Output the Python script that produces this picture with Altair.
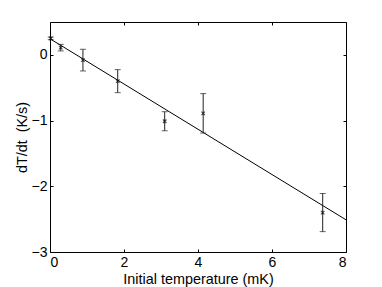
import altair as alt
import pandas as pd

# measured data (initial temperature in mK, dT/dt in K/s, error)
temp = [0.02, 0.29, 0.89, 1.83, 3.10, 4.14, 7.37]
rate = [0.25, 0.11, -0.08, -0.40, -1.01, -0.89, -2.40]
err = [0.02, 0.05, 0.165, 0.175, 0.145, 0.30, 0.29]

# fitted line endpoints
fit_x = [0.0, 8.0]
fit_y = [0.245, -2.51]

x_ticks = [0, 2, 4, 6, 8]
y_ticks = [-3, -2, -1, 0]

df = pd.DataFrame({"t": temp, "r": rate, "lo": [r - e for r, e in zip(rate, err)],
                   "hi": [r + e for r, e in zip(rate, err)]})
fit = pd.DataFrame({"t": fit_x, "r": fit_y})

FONT = "Liberation Sans"
xs = alt.Scale(domain=[0, 8], nice=False, zero=False)
ys = alt.Scale(domain=[-3, 0.5], nice=False, zero=False)

ax_common = dict(domain=False, grid=False, tickSize=3, offset=-3, tickColor="black",
                 labelFont=FONT, labelFontSize=14, labelColor="black",
                 titleFont=FONT, titleFontSize=14.4, titleFontWeight="normal", titleColor="black")

x_bottom = alt.Axis(values=x_ticks, title="Initial temperature (mK)", orient="bottom",
                    labelPadding=3, titlePadding=3, **ax_common)
y_left = alt.Axis(values=y_ticks, title="dT/dt\u00a0 (K/s)", orient="left",
                  labelPadding=3, titlePadding=2, **ax_common)
x_top = alt.Axis(values=x_ticks, orient="top", labels=False, title=None, **ax_common)
y_right = alt.Axis(values=y_ticks, orient="right", labels=False, title=None, **ax_common)

line = alt.Chart(fit).mark_line(color="black", strokeWidth=1).encode(
    x=alt.X("t:Q", scale=xs, axis=x_bottom),
    y=alt.Y("r:Q", scale=ys, axis=y_left),
)

bars = alt.Chart(df).mark_rule(color="#222", strokeWidth=1).encode(
    x=alt.X("t:Q", scale=xs, axis=None),
    y=alt.Y("lo:Q", scale=ys, axis=None),
    y2="hi:Q",
)
cap_lo = alt.Chart(df).mark_tick(color="#222", orient="horizontal", size=6, thickness=1).encode(
    x=alt.X("t:Q", scale=xs, axis=None),
    y=alt.Y("lo:Q", scale=ys, axis=None),
)
cap_hi = alt.Chart(df).mark_tick(color="#222", orient="horizontal", size=6, thickness=1).encode(
    x=alt.X("t:Q", scale=xs, axis=None),
    y=alt.Y("hi:Q", scale=ys, axis=None),
)
pts = alt.Chart(df).mark_point(shape="M-1,-1L1,1M-1,1L1,-1", size=12, color="black",
                               strokeWidth=1.2, filled=False).encode(
    x=alt.X("t:Q", scale=xs, axis=x_top),
    y=alt.Y("r:Q", scale=ys, axis=y_right),
)

chart = alt.layer(line, bars, cap_lo, cap_hi, pts).resolve_axis(
    x="independent", y="independent"
).properties(
    width=296, height=230,
    autosize=alt.AutoSizeParams(type="none"),
    padding={"left": 42, "top": 14, "right": 28, "bottom": 40},
    background="white",
).configure_view(stroke="black", strokeWidth=1)

chart.save("out.html", embed_options={"renderer": "svg", "actions": False})
